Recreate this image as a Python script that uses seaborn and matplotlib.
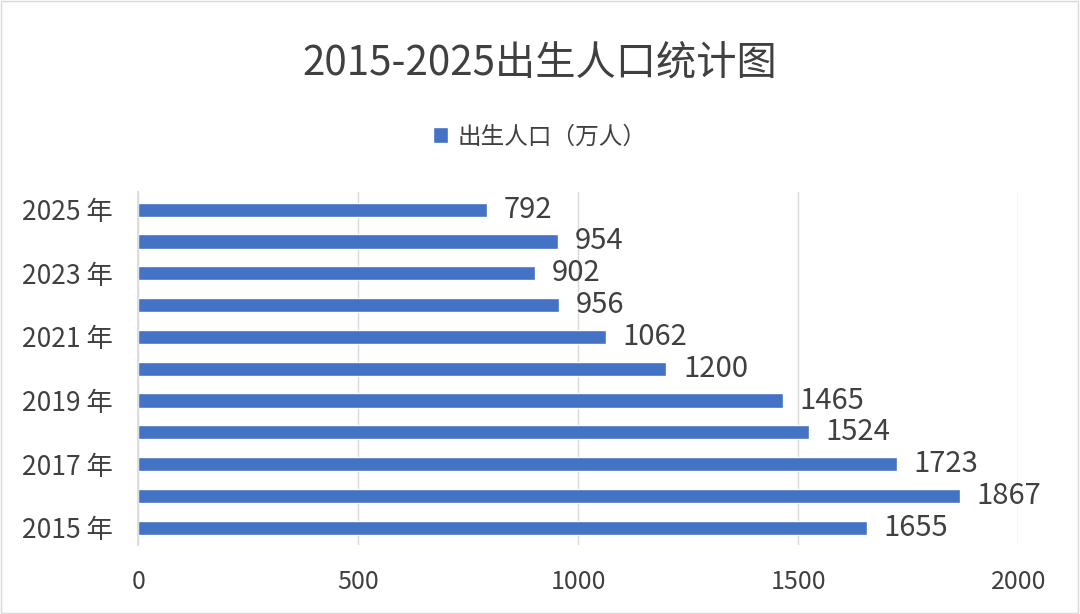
import pandas as pd
import matplotlib
matplotlib.use("Agg")
import matplotlib.pyplot as plt
import seaborn as sns

# data
years = [2015, 2016, 2017, 2018, 2019, 2020, 2021, 2022, 2023, 2024, 2025]
births = [1655, 1867, 1723, 1524, 1465, 1200, 1062, 956, 902, 954, 792]
series_name = "出生人口（万人）"
title = "2015-2025出生人口统计图"

sns.set_theme(style="white")
plt.rcParams['font.family'] = ['Noto Sans CJK SC', 'DejaVu Sans']

df = pd.DataFrame({"year": [str(y) for y in years], "births": births})
order = [str(y) for y in years[::-1]]   # 2025 at the top

text_col = "#404040"
bar_col = "#4472C4"

fig = plt.figure(figsize=(10.8, 6.14), dpi=100)
ax = fig.add_axes([0.128, 0.112, 0.815, 0.575])

sns.barplot(data=df, x="births", y="year", order=order, orient="h",
            color=bar_col, width=0.45, saturation=1, ax=ax, label=series_name)

ax.set_xlim(0, 2000)
ax.set_xticks([0, 500, 1000, 1500, 2000])
ax.set_ylim(len(order) - 0.45, -0.55)
ax.set_xlabel("")
ax.set_ylabel("")

# only every other year is labelled
ylabels = [f"{y} 年" if (int(y) - 2015) % 2 == 0 else "" for y in order]
ax.set_yticks(range(len(order)))
ax.set_yticklabels(ylabels)
ax.tick_params(axis="y", labelsize=19, colors=text_col, length=0, pad=18)
ax.tick_params(axis="x", labelsize=18, colors=text_col, length=0, pad=17)

ax.grid(axis="x", color="#d9d9d9", linewidth=1)
ax.set_axisbelow(True)
for s in ["top", "right", "bottom"]:
    ax.spines[s].set_visible(False)
ax.spines["left"].set_color("#d9d9d9")

for c in ax.containers:
    ax.bar_label(c, padding=12, fontsize=21, color=text_col)

ax.legend(loc="center", bbox_to_anchor=(0.5, 0.777), bbox_transform=fig.transFigure,
          frameon=False, fontsize=17, handlelength=0.65, handleheight=0.65,
          handletextpad=0.4, labelcolor=text_col)

fig.text(0.5, 0.897, title, ha="center", va="center", fontsize=29, color=text_col)

# thin frame around the chart area
fig.patches.append(plt.Rectangle((0.001, 0.002), 0.997, 0.996, transform=fig.transFigure,
                                 fill=False, edgecolor="#d9d9d9", linewidth=1))

fig.savefig("out.png", dpi=100, facecolor="white")
